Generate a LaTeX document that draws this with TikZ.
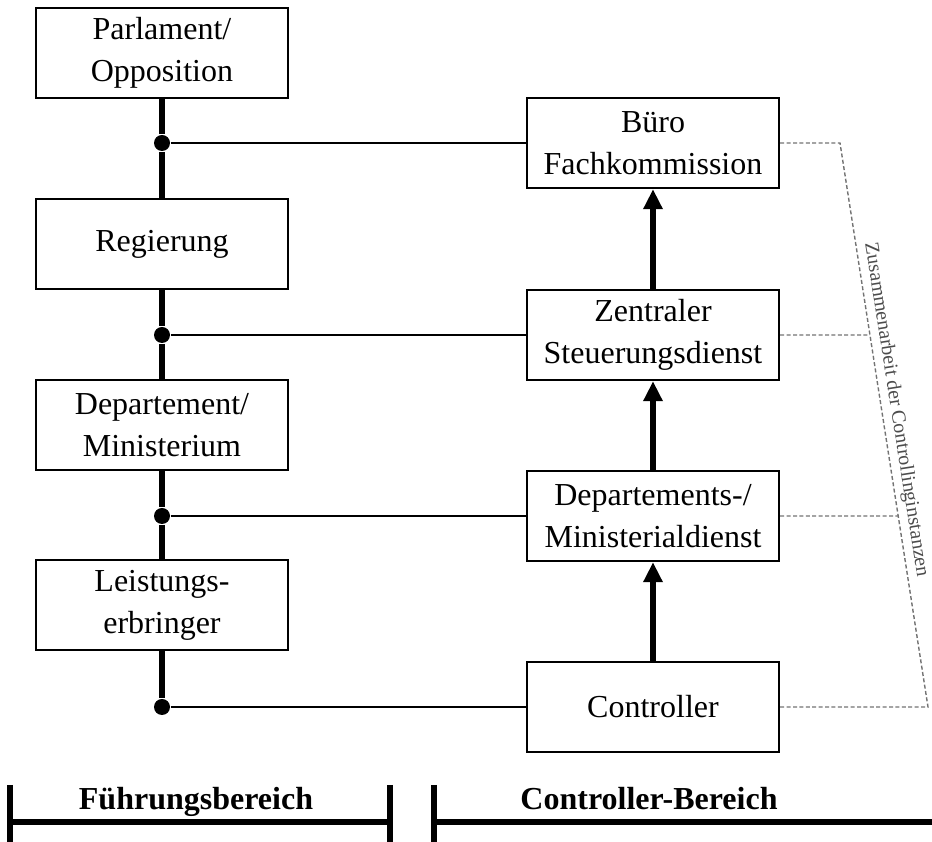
\documentclass[tikz,border=0pt]{standalone}
\usepackage{fontspec}
\setmainfont{Liberation Serif}
\usetikzlibrary{arrows.meta}
\begin{document}
\begin{tikzpicture}[x=0.25pt,y=-0.25pt,>={Triangle[length=5pt,width=4.6pt]},
	kasten/.style={draw,line width=0.6pt,minimum width=63pt,minimum height=22.5pt,inner sep=0pt,align=center,font=\fontsize{8}{10.5}\selectfont},
	stamm/.style={line width=1.3pt},
	verb/.style={line width=0.5pt},
	punkt/.style={circle,fill,inner sep=0pt,minimum size=4pt},
	strich/.style={black!55,line width=0.35pt,dash pattern=on 1pt off 0.6pt},
	klammer/.style={line width=1.3pt},
	bereich/.style={anchor=base,font=\bfseries\fontsize{8}{10}\selectfont}]
				\useasboundingbox (0,0) rectangle (932,842);
				% Fuehrungsbereich
				\node[kasten] (P) at (162,53) {Parlament/\\Opposition};
				\node[kasten] (R) at (162,244) {Regierung};
				\node[kasten] (D) at (162,425) {Departement/\\Ministerium};
				\node[kasten] (L) at (162,605) {Leistungs-\\erbringer};
				% Controller-Bereich
				\node[kasten] (B) at (653,143) {Büro\\Fachkommission};
				\node[kasten] (Z) at (653,335) {Zentraler\\Steuerungsdienst};
				\node[kasten] (M) at (653,516) {Departements-/\\Ministerialdienst};
				\node[kasten] (C) at (653,707) {Controller};
				\node[punkt] (p1) at (P |- B) {};
				\node[punkt] (p2) at (P |- Z) {};
				\node[punkt] (p3) at (P |- M) {};
				\node[punkt] (p4) at (P |- C) {};
				\draw[stamm] (P) -- (p1) -- (R) (R) -- (p2) -- (D) (D) -- (p3) -- (L) (L) -- (p4);
				\draw[verb] (p1) -- (B) (p2) -- (Z) (p3) -- (M) (p4) -- (C);
				\draw[stamm,->] (C) -- (M);
				\draw[stamm,->] (M) -- (Z);
				\draw[stamm,->] (Z) -- (B);
				% Zusammenarbeit
				\path (840,143) coordinate (k1);
				\path (928,707) coordinate (k2);
				\draw[strich] (B.east) -- (k1) -- (k2) -- (C.east);
				\draw[strich] (Z.east) -- (intersection of k1--k2 and Z.east--Z.west);
				\draw[strich] (M.east) -- (intersection of k1--k2 and M.east--M.west);
				\node[rotate=-81.1,anchor=base west,inner sep=0pt,font=\fontsize{5}{6}\selectfont,black!70] (za) at (865,243) {Zusammenarbeit der Controllinginstanzen};
				% Bereiche
				\draw[klammer] (10,785) -- (10,850) (10,822) -- (390,822) (390,785) -- (390,850);
				\draw[klammer] (434,785) -- (434,850) (434,822) -- (940,822);
				\node[bereich] (fb) at (196,810) {Führungsbereich};
				\node[bereich] (cb) at (649,810) {Controller-Bereich};
			\end{tikzpicture}
\end{document}
